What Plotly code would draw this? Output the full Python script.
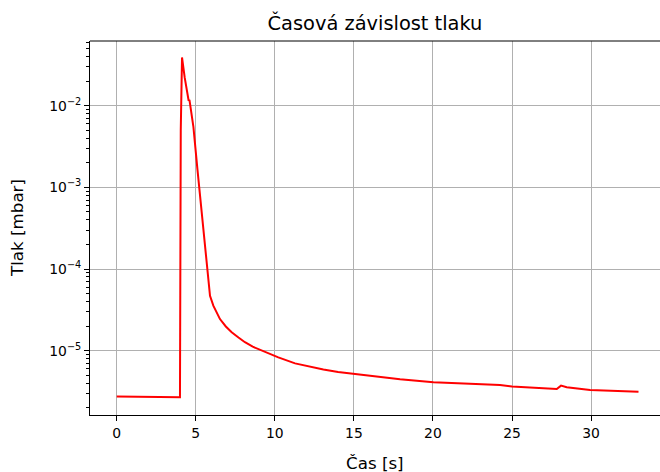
import plotly.graph_objects as go

# Time [s]
time_s = [0, 1, 2, 3, 3.95, 4.0, 4.05, 4.13, 4.3, 4.5, 4.55, 4.6, 4.85, 5.1, 5.4,
          5.72, 5.8, 5.9, 6.11, 6.3, 6.53, 6.9, 7.27, 7.7, 8.11, 8.6, 9.17, 10.22,
          11.28, 12.2, 13.07, 14.0, 14.97, 16.5, 17.92, 20.03, 22.0, 24.24, 25.0,
          26.5, 27.83, 28.1, 28.46, 29.94, 31.5, 33.0]
# Pressure [mbar]
pressure_mbar = [2.75e-6, 2.73e-6, 2.71e-6, 2.70e-6, 2.69e-6, 2.69e-6, 5.0e-3, 3.9e-2,
                 2.2e-2, 1.3e-2, 1.15e-2, 1.18e-2, 5.5e-3, 1.7e-3, 4.4e-4,
                 1.0e-4, 6.3e-5, 4.7e-5, 3.56e-5, 2.95e-5, 2.44e-5, 1.98e-5, 1.68e-5,
                 1.45e-5, 1.27e-5, 1.12e-5, 1.0e-5, 8.3e-6, 7.0e-6, 6.4e-6, 5.9e-6,
                 5.5e-6, 5.2e-6, 4.8e-6, 4.47e-6, 4.1e-6, 3.95e-6, 3.8e-6, 3.65e-6,
                 3.5e-6, 3.39e-6, 3.74e-6, 3.57e-6, 3.31e-6, 3.22e-6, 3.15e-6]

x_ticks = [0, 5, 10, 15, 20, 25, 30]
y_tick_vals = [1e-5, 1e-4, 1e-3, 1e-2]
y_tick_text = ["10<sup>−5</sup>", "10<sup>−4</sup>", "10<sup>−3</sup>", "10<sup>−2</sup>"]

title_text = "Časová závislost tlaku"
x_label = "Čas [s]"
y_label = "Tlak [mbar]"

FONT = "DejaVu Sans"

fig = go.Figure()
fig.add_trace(go.Scatter(x=time_s, y=pressure_mbar, mode="lines",
                         line=dict(color="#ff0000", width=2), showlegend=False))

fig.update_layout(
    width=660, height=472,
    margin=dict(l=90, r=0, t=41, b=57),
    paper_bgcolor="white", plot_bgcolor="white",
    font=dict(family=FONT, size=14, color="black"),
    title=dict(text=title_text, x=0.5, xref="paper", xanchor="center",
               y=1 - 23 / 472, yref="container", yanchor="middle",
               font=dict(family=FONT, size=19.4, color="black")),
    xaxis=dict(range=[-1.69, 34.36], tickvals=x_ticks, ticks="outside", ticklen=5,
               tickwidth=1, tickcolor="black", showline=True, linecolor="black",
               linewidth=1, mirror=False, showgrid=True, gridcolor="#b0b0b0",
               gridwidth=1, zeroline=False, tickfont=dict(size=13.9, family=FONT)),
    yaxis=dict(type="log", range=[-5.787, -1.208], tickvals=y_tick_vals,
               ticktext=y_tick_text, ticks="outside", ticklen=5, tickwidth=1,
               tickcolor="black", showline=True, linecolor="black", linewidth=1,
               mirror=False, showgrid=True, gridcolor="#b0b0b0", gridwidth=1,
               zeroline=False, tickfont=dict(size=13.9, family=FONT),
               minor=dict(ticks="outside", ticklen=3, tickwidth=1,
                          tickcolor="black", dtick="D1", showgrid=False)),
    shapes=[dict(type="line", xref="paper", yref="paper", x0=0, x1=1, y0=1, y1=1,
                 line=dict(color="black", width=1))],
    annotations=[
        dict(text=x_label, xref="paper", yref="paper", x=0.5, y=0, yshift=-48,
             xanchor="center", yanchor="middle", showarrow=False,
             font=dict(size=16.7, family=FONT, color="black")),
        dict(text=y_label, xref="paper", yref="paper", x=0, xshift=-73, y=0.5,
             xanchor="center", yanchor="middle", textangle=-90, showarrow=False,
             font=dict(size=16.7, family=FONT, color="black")),
    ],
)

fig.write_html("out.html")
